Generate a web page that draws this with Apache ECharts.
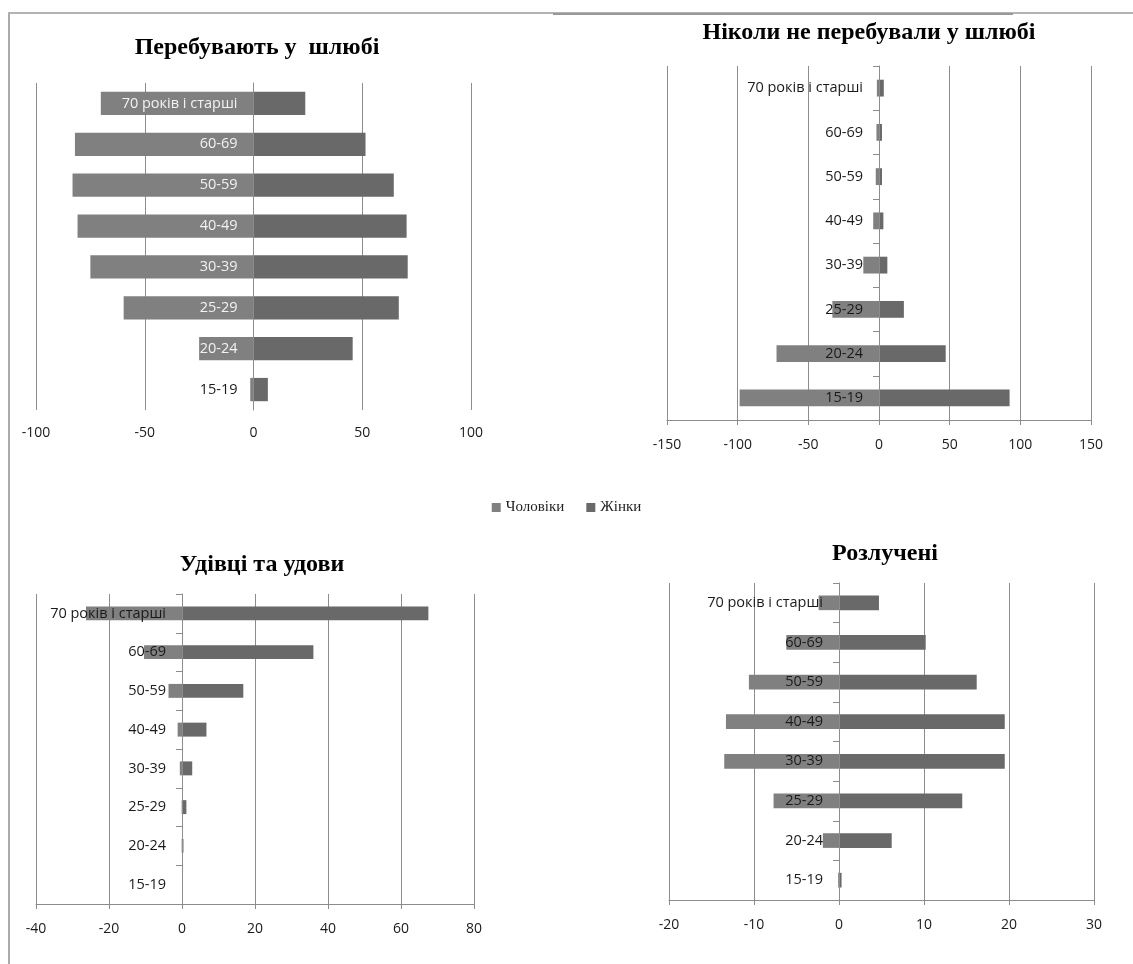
<!DOCTYPE html>
<html>
<head>
<meta charset="utf-8">
<script src="https://cdn.jsdelivr.net/npm/echarts@6/dist/echarts.min.js"></script>
<style>
html,body{margin:0;padding:0;background:#fff;}
#c{width:1133px;height:964px;}
</style>
</head>
<body>
<div id="c"></div>
<script>
const categories = ['15-19','20-24','25-29','30-39','40-49','50-59','60-69','70 років і старші'];
const seriesNames = ['Чоловіки','Жінки'];
const titles = ['Перебувають у  шлюбі','Ніколи не перебували у шлюбі','Удівці та удови','Розлучені'];

// Перебувають у шлюбі
const marriedMen   = [-1.5,-25,-59.7,-75,-80.9,-83.2,-82.1,-70.2];
const marriedWomen = [6.6,45.6,66.8,70.9,70.4,64.5,51.5,23.8];
// Ніколи не перебували у шлюбі
const neverMen   = [-98.6,-72.5,-33,-11.1,-4.1,-2.3,-1.8,-1.5];
const neverWomen = [92.4,47.2,17.6,5.9,3.1,2.1,2.1,3.4];
// Удівці та удови
const widowMen   = [0,-0.1,-0.1,-0.6,-1.2,-3.7,-10.4,-26.3];
const widowWomen = [0,0.4,1.2,2.8,6.7,16.8,36.0,67.5];
// Розлучені
const divMen   = [-0.1,-1.9,-7.7,-13.5,-13.3,-10.6,-6.2,-2.4];
const divWomen = [0.3,6.2,14.5,19.5,19.5,16.2,10.2,4.7];

const axisMin = [-100,-150,-40,-20];
const axisMax = [100,150,80,30];
const axisStep = [50,50,20,10];

const menData = [marriedMen, neverMen, widowMen, divMen];
const womenData = [marriedWomen, neverWomen, widowWomen, divWomen];

const MEN_COLOR = '#808080';
const WOMEN_COLOR = '#696969';
const GRID_COLOR = '#8c8c8c';
const LABEL_FONT = '"Open Sans", sans-serif';

const grids = [
  {left:36, top:83, width:435, height:327},
  {left:667, top:66, width:424, height:354},
  {left:36, top:594, width:438, height:310},
  {left:669, top:583, width:425, height:317}
].map(g => Object.assign(g, {containLabel:false, outerBoundsMode:'none'}));
const barWidthPct = ['43%','62%','64%','63%'];
const titlePos = [
  {x:252, y:45},
  {x:864, y:30},
  {x:257, y:562},
  {x:880, y:551}
];

const chart = echarts.init(document.getElementById('c'));

const xAxes = [], yAxes = [], series = [];
for (let i = 0; i < 4; i++) {
  const hasBase = i !== 0;
  xAxes.push({
    type:'value', gridIndex:i, min:axisMin[i], max:axisMax[i], interval:axisStep[i],
    axisLine:{show:hasBase, onZero:false, lineStyle:{color:GRID_COLOR, width:1}},
    axisTick:{show:hasBase, length:5, lineStyle:{color:GRID_COLOR}},
    splitLine:{show:true, lineStyle:{color:GRID_COLOR, width:1}},
    axisLabel:{color:'#1a1a1a', fontFamily:LABEL_FONT, fontSize:14, margin:hasBase?18:16}
  });
  yAxes.push({
    type:'category', gridIndex:i, data:categories, z:5,
    axisLine:{show:true, onZero:true, lineStyle:{color:GRID_COLOR, width:1}},
    axisTick:{show:hasBase, length:6, lineStyle:{color:GRID_COLOR}},
    axisLabel:{show:false}
  });
  series.push({
    name:seriesNames[0], type:'bar', xAxisIndex:i, yAxisIndex:i,
    data:menData[i], barGap:'-100%', barCategoryGap:barWidthPct[i],
    itemStyle:{color:MEN_COLOR}, z:2
  });
  const whiteLabels = i === 0;
  series.push({
    name:seriesNames[1], type:'bar', xAxisIndex:i, yAxisIndex:i,
    data:womenData[i], barGap:'-100%', barCategoryGap:barWidthPct[i],
    itemStyle:{color:WOMEN_COLOR}, z:3,
    label:{
      show:true, position:'left', distance:16,
      formatter: p => (whiteLabels && p.dataIndex !== 0) ? '{w|' + p.name + '}' : '{d|' + p.name + '}',
      rich:{
        w:{color:'#f2f2f2', fontFamily:LABEL_FONT, fontSize:14.5},
        d:{color:'#1a1a1a', fontFamily:LABEL_FONT, fontSize:14.5}
      }
    }
  });
}

chart.setOption({
  animation:false,
  backgroundColor:'#fff',
  title:titles.map((t, i) => ({
    text:t, left:titlePos[i].x, top:titlePos[i].y - 14,
    textAlign:'center',
    textStyle:{fontFamily:'"Liberation Serif", serif', fontWeight:'bold', fontSize:24, color:'#000'}
  })),
  legend:{
    data:seriesNames, left:'center', top:495, itemWidth:9, itemHeight:9, itemGap:22,
    icon:'rect',
    textStyle:{fontFamily:'"Liberation Serif", serif', fontSize:15, color:'#222'}
  },
  grid:grids,
  xAxis:xAxes,
  yAxis:yAxes,
  series:series,
  graphic:[
    {type:'line', shape:{x1:9, y1:13, x2:9, y2:964}, style:{stroke:'#ababab', lineWidth:2}, silent:true},
    {type:'line', shape:{x1:8, y1:13, x2:1133, y2:13}, style:{stroke:'#b3b3b3', lineWidth:2}, silent:true},
    {type:'line', shape:{x1:553, y1:14, x2:1013, y2:14}, style:{stroke:'#999999', lineWidth:2}, silent:true}
  ]
});
</script>
</body>
</html>
